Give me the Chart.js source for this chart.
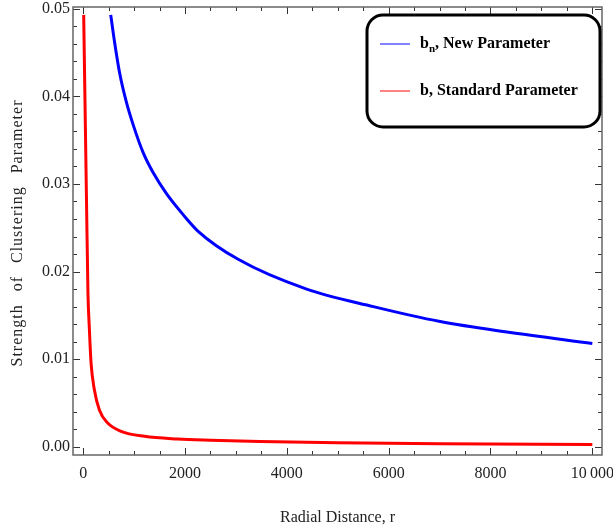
<!DOCTYPE html>
<html>
<head>
<meta charset="utf-8">
<script src="https://cdn.jsdelivr.net/npm/chart.js@4.4.1/dist/chart.umd.min.js"></script>
<style>
  html, body { margin: 0; padding: 0; background: #fff; }
  #wrap { width: 613px; height: 530px; }
</style>
</head>
<body>
<div id="wrap"><canvas id="c" width="613" height="530"></canvas></div>
<script>
// ---- data ----
const rNew = [541, 619, 718, 850, 979, 1176, 1373, 1636, 1963, 2258, 3044, 4389, 5699, 7011, 8322, 10000];
const bNew = [0.0493, 0.0461, 0.0426, 0.0393, 0.0368, 0.0336, 0.0313, 0.0289, 0.0265, 0.0246, 0.0214, 0.0180, 0.0160, 0.0143, 0.0131, 0.0118];

const rStd = [10, 35, 65, 94, 122, 154, 220, 318, 482, 744, 1203, 1858, 2500, 3470, 5000, 7000, 10000];
const bStd = [0.0493, 0.0396, 0.0282, 0.0175, 0.0134, 0.0096, 0.0065, 0.0042, 0.0027, 0.00176, 0.00119, 0.00089, 0.00075, 0.00060, 0.00045, 0.00034, 0.00025];

const xMajorTicks = [0, 2000, 4000, 6000, 8000, 10000];
const xTickLabels = ['0', '2000', '4000', '6000', '8000', '10\u2009000'];
const yMajorTicks = [0, 0.01, 0.02, 0.03, 0.04, 0.05];
const yTickLabels = ['0.00', '0.01', '0.02', '0.03', '0.04', '0.05'];

const seriesNames = [['b', 'n', ', New Parameter'], ['b', '', ', Standard Parameter']];
const xTitle = 'Radial Distance, r';
const yTitle = 'Strength of Clustering Parameter';

const X_MIN = -200, X_MAX = 10190, Y_MIN = -0.00094, Y_MAX = 0.0502;
const X_MINOR = 500, Y_MINOR = 0.002;

const toXY = (xs, ys) => xs.map((x, i) => ({x: x, y: ys[i]}));

const serif = "'Liberation Serif', 'DejaVu Serif', serif";

const framePlugin = {
  id: 'frame',
  afterDatasetsDraw(chart) {
    const {ctx, chartArea: a, scales: {x, y}} = chart;
    ctx.save();
    // ticks
    ctx.strokeStyle = '#333';
    ctx.lineWidth = 1;
    const eq = (v, list) => list.some(m => Math.abs(m - v) < 1e-9);
    for (let v = 0; v <= X_MAX + 1e-9; v += X_MINOR) {
      const px = Math.round(x.getPixelForValue(v)) + 0.5;
      const L = eq(v, xMajorTicks) ? 7 : 4;
      ctx.beginPath();
      ctx.moveTo(px, a.bottom); ctx.lineTo(px, a.bottom - L);
      ctx.moveTo(px, a.top); ctx.lineTo(px, a.top + L);
      ctx.stroke();
    }
    for (let i = 0; ; i++) {
      const v = +(i * Y_MINOR).toFixed(6);
      if (v > Y_MAX) break;
      const py = Math.round(y.getPixelForValue(v)) + 0.5;
      const L = eq(v, yMajorTicks) ? 7 : 4;
      ctx.beginPath();
      ctx.moveTo(a.left, py); ctx.lineTo(a.left + L, py);
      ctx.moveTo(a.right, py); ctx.lineTo(a.right - L, py);
      ctx.stroke();
    }
    // frame
    ctx.strokeStyle = '#666';
    ctx.lineWidth = 1.5;
    ctx.strokeRect(a.left, a.top, a.right - a.left, a.bottom - a.top);

    // y axis title (wide spacing as in the reference)
    ctx.save();
    ctx.translate(18, 233);
    ctx.rotate(-Math.PI / 2);
    ctx.font = '16px ' + serif;
    ctx.letterSpacing = '1px';
    ctx.fillStyle = '#222';
    ctx.textBaseline = 'middle';
    ctx.textAlign = 'left';
    const words = yTitle.split(' ');
    const ww = words.map(w => ctx.measureText(w).width);
    const total = 267;
    const gap = (total - ww.reduce((s, v) => s + v, 0)) / (words.length - 1);
    let wx = -total / 2;
    words.forEach((w, i) => { ctx.fillText(w, wx, 0); wx += ww[i] + gap; });
    ctx.restore();

    // legend
    const bx = 367, by = 15, bw = 233, bh = 112;
    ctx.beginPath();
    ctx.roundRect(bx, by, bw, bh, 16);
    ctx.fillStyle = '#fff';
    ctx.fill();
    ctx.lineWidth = 3;
    ctx.strokeStyle = '#000';
    ctx.stroke();
    const legendColors = ['#5a5aff', '#ff5a5a'];
    const rowsY = [44, 91];
    chart.data.datasets.forEach((ds, i) => {
      const yy = rowsY[i];
      ctx.strokeStyle = legendColors[i];
      ctx.lineWidth = 1.5;
      ctx.beginPath();
      ctx.moveTo(380, yy); ctx.lineTo(410, yy);
      ctx.stroke();
      const parts = seriesNames[i];
      ctx.fillStyle = '#000';
      ctx.textBaseline = 'middle';
      ctx.textAlign = 'left';
      let tx = 420;
      ctx.font = 'bold 16px ' + serif;
      ctx.fillText(parts[0], tx, yy);
      tx += ctx.measureText(parts[0]).width;
      if (parts[1]) {
        ctx.font = 'bold 11px ' + serif;
        ctx.fillText(parts[1], tx, yy + 5);
        tx += ctx.measureText(parts[1]).width;
      }
      ctx.font = 'bold 16px ' + serif;
      ctx.fillText(parts[2], tx, yy);
    });
    ctx.restore();
  }
};

new Chart(document.getElementById('c'), {
  type: 'scatter',
  data: {
    datasets: [
      {
        label: 'bn, New Parameter',
        data: toXY(rNew, bNew),
        showLine: true,
        borderColor: '#0000ff',
        borderWidth: 3,
        pointRadius: 0,
        cubicInterpolationMode: 'monotone',
        fill: false
      },
      {
        label: 'b, Standard Parameter',
        data: toXY(rStd, bStd),
        showLine: true,
        borderColor: '#ff0000',
        borderWidth: 3,
        pointRadius: 0,
        cubicInterpolationMode: 'monotone',
        fill: false
      }
    ]
  },
  options: {
    responsive: false,
    animation: false,
    devicePixelRatio: 1,
    layout: { padding: { top: 7, right: 11, left: 0, bottom: 0 } },
    plugins: { legend: { display: false }, tooltip: { enabled: false } },
    scales: {
      x: {
        type: 'linear',
        min: X_MIN, max: X_MAX,
        grid: { display: false, drawTicks: false },
        border: { display: false },
        afterBuildTicks: (s) => { s.ticks = xMajorTicks.map(v => ({value: v})); },
        afterFit: (s) => { s.height = 75; s.paddingLeft = 0; s.paddingRight = 0; },
        ticks: {
          autoSkip: false,
          maxRotation: 0,
          padding: 9,
          color: '#222',
          font: { family: serif, size: 16 },
          callback: (v) => { const i = xMajorTicks.indexOf(v); return i >= 0 ? xTickLabels[i] : ''; }
        },
        title: {
          display: true, text: xTitle, color: '#222',
          font: { family: serif, size: 16 },
          padding: { top: 0, bottom: 3 }
        }
      },
      y: {
        type: 'linear',
        min: Y_MIN, max: Y_MAX,
        grid: { display: false, drawTicks: false },
        border: { display: false },
        afterBuildTicks: (s) => { s.ticks = yMajorTicks.map(v => ({value: v})); },
        afterFit: (s) => { s.width = 73; s.paddingTop = 0; s.paddingBottom = 0; },
        ticks: {
          autoSkip: false,
          padding: 3,
          color: '#222',
          font: { family: serif, size: 16 },
          callback: (v) => { const i = yMajorTicks.findIndex(m => Math.abs(m - v) < 1e-9); return i >= 0 ? yTickLabels[i] : ''; }
        },
        title: { display: false }
      }
    }
  },
  plugins: [framePlugin]
});
</script>
</body>
</html>
